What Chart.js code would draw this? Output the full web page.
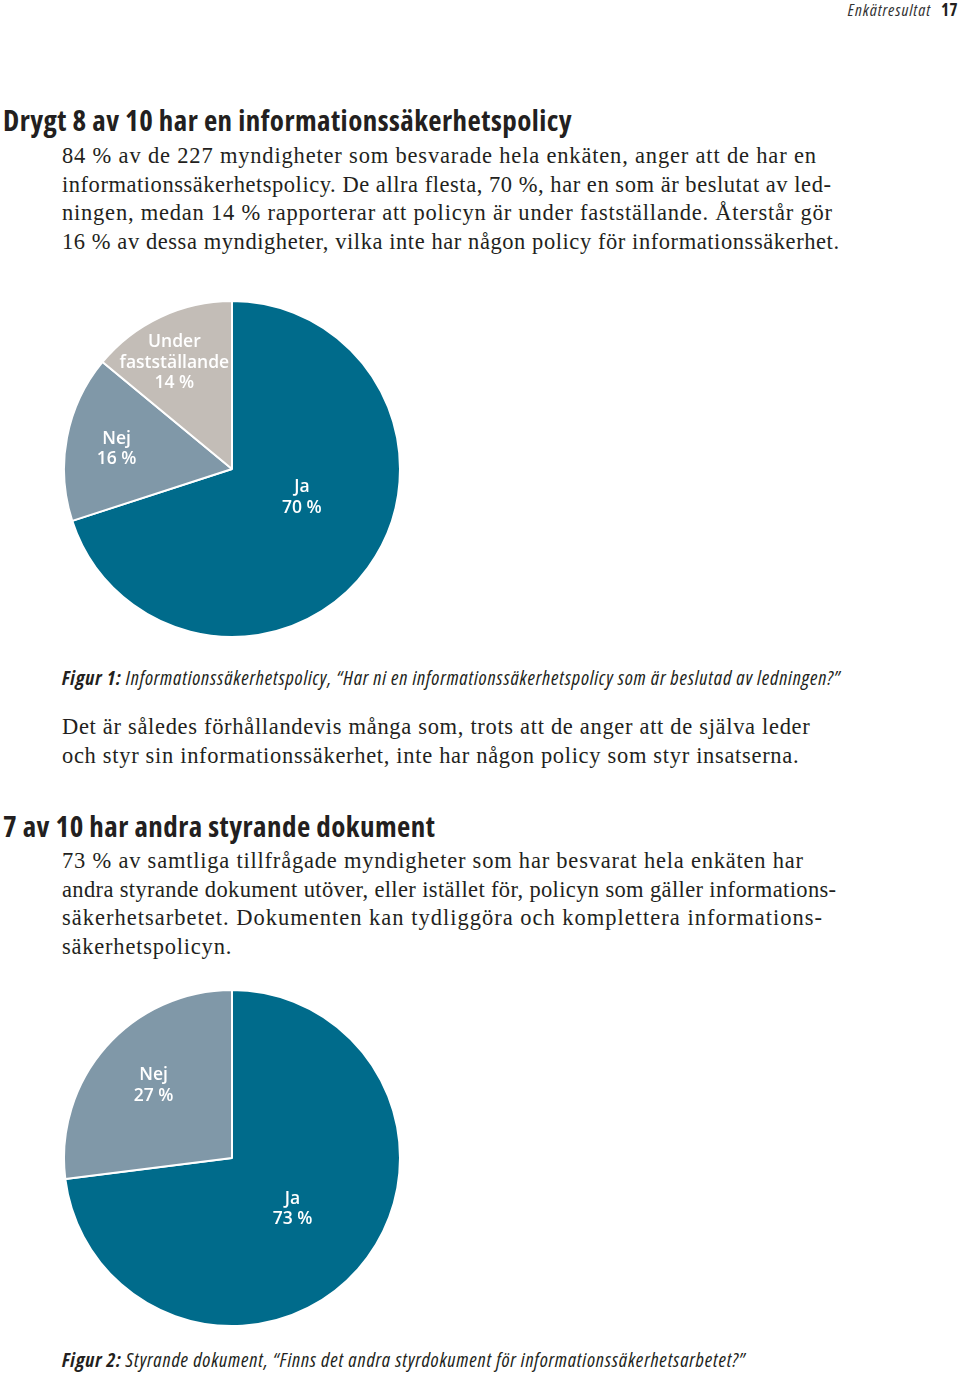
<!DOCTYPE html>
<html lang="sv">
<head>
<meta charset="utf-8">
<script src="https://cdn.jsdelivr.net/npm/chart.js@4.4.0/dist/chart.umd.min.js"></script>
<style>
  html, body { margin:0; padding:0; background:#fff; }
  body { width:960px; height:1373px; position:relative; overflow:hidden; color:#231f20; }
  .abs { position:absolute; white-space:nowrap; }
  .cond { font-family:"Open Sans","Liberation Sans Narrow","DejaVu Sans Condensed",sans-serif; font-stretch:75%; }
  .hdr { right:2px; top:1px; font-size:17px; line-height:17px; }
  .hdr i { font-style:italic; color:#333; letter-spacing:0.9px; }
  .hdr b { margin-left:10px; font-weight:700; letter-spacing:0.5px; }
  .title { left:3px; font-size:29px; font-weight:700; letter-spacing:0.45px; }
  .para { left:62px; font-family:"Liberation Serif","DejaVu Serif",serif; font-size:22.5px; letter-spacing:0.78px; line-height:28.5px; }
  .cap { left:62px; font-size:20px; font-style:italic; letter-spacing:0.82px; }
  .cap b { font-weight:700; }
  .chartbox { position:absolute; }
</style>
</head>
<body>
<div class="abs hdr cond"><i>Enkätresultat</i><b>17</b></div>

<div class="abs title cond" style="top:100px;">Drygt 8 av 10 har en informationssäkerhetspolicy</div>
<div class="abs para" style="top:142px;"><span style="letter-spacing:0.82px">84 % av de 227 myndigheter som besvarade hela enkäten, anger att de har en</span><br><span style="letter-spacing:0.54px">informationssäkerhetspolicy. De allra flesta, 70 %, har en som är beslutat av led-</span><br><span>ningen, medan 14 % rapporterar att policyn är under fastställande. Återstår gör</span><br><span style="letter-spacing:0.57px">16 % av dessa myndigheter, vilka inte har någon policy för informationssäkerhet.</span></div>

<div class="chartbox" style="left:63px; top:300px; width:338px; height:338px;"><canvas id="c1"></canvas></div>

<div class="abs cap cond" style="top:664px;"><b>Figur 1:</b> Informationssäkerhetspolicy, “Har ni en informationssäkerhetspolicy som är beslutad av ledningen?”</div>

<div class="abs para" style="top:713px;"><span style="letter-spacing:0.68px">Det är således förhållandevis många som, trots att de anger att de själva leder</span><br><span style="letter-spacing:0.68px">och styr sin informationssäkerhet, inte har någon policy som styr insatserna.</span></div>

<div class="abs title cond" style="top:806px;">7 av 10 har andra styrande dokument</div>
<div class="abs para" style="top:847px;"><span>73 % av samtliga tillfrågade myndigheter som har besvarat hela enkäten har</span><br><span style="letter-spacing:0.36px">andra styrande dokument utöver, eller istället för, policyn som gäller informations-</span><br><span style="letter-spacing:1px">säkerhetsarbetet. Dokumenten kan tydliggöra och komplettera informations-</span><br><span>säkerhetspolicyn.</span></div>

<div class="chartbox" style="left:63px; top:989px; width:338px; height:338px;"><canvas id="c2"></canvas></div>

<div class="abs cap cond" style="top:1346px;"><b>Figur 2:</b> Styrande dokument, “Finns det andra styrdokument för informationssäkerhetsarbetet?”</div>

<script>
// ---- Data ----
const fig1Categories = ["Ja", "Nej", "Under fastställande"];
const fig1Values = [70, 16, 14];
const fig1LabelLines = [["Ja", "70 %"], ["Nej", "16 %"], ["Under", "fastställande", "14 %"]];

const fig2Categories = ["Ja", "Nej"];
const fig2Values = [73, 27];
const fig2LabelLines = [["Ja", "73 %"], ["Nej", "27 %"]];

// ---- Styles ----
const sliceColors = ["#006b8b", "#8098a8", "#c3bdb7"];
const fig1LabelOffsets = [[0.416, 0.169], [-0.687, -0.12], [-0.343, -0.633]];
const fig2LabelOffsets = [[0.36, 0.305], [-0.467, -0.431]];

const sliceLabelPlugin = {
  id: 'sliceLabels',
  afterDatasetsDraw(chart, args, opts) {
    const ctx = chart.ctx;
    const meta = chart.getDatasetMeta(0);
    ctx.save();
    ctx.fillStyle = '#ffffff';
    ctx.textAlign = 'center';
    ctx.textBaseline = 'middle';
    ctx.font = opts.font;
    meta.data.forEach((arc, i) => {
      const lines = opts.lines[i];
      const off = opts.offsets[i];
      const cx = arc.x + off[0] * arc.outerRadius;
      const cy = arc.y + off[1] * arc.outerRadius;
      const lh = opts.lineHeight;
      const start = cy - (lines.length - 1) * lh / 2;
      lines.forEach((t, j) => ctx.fillText(t, cx, start + j * lh));
    });
    ctx.restore();
  }
};

function makePie(id, labels, values, lines, offsets) {
  new Chart(document.getElementById(id), {
    type: 'pie',
    data: {
      labels: labels,
      datasets: [{
        data: values,
        backgroundColor: sliceColors.slice(0, values.length),
        borderColor: '#ffffff',
        borderWidth: 2,
        hoverOffset: 0
      }]
    },
    options: {
      responsive: true,
      maintainAspectRatio: false,
      animation: false,
      layout: { padding: 0 },
      plugins: {
        legend: { display: false },
        tooltip: { enabled: false },
        sliceLabels: {
          lines: lines,
          offsets: offsets,
          font: '600 17.5px "Open Sans", Roboto, sans-serif',
          lineHeight: 20.5
        }
      }
    },
    plugins: [sliceLabelPlugin]
  });
}

makePie('c1', fig1Categories, fig1Values, fig1LabelLines, fig1LabelOffsets);
makePie('c2', fig2Categories, fig2Values, fig2LabelLines, fig2LabelOffsets);
</script>
</body>
</html>
